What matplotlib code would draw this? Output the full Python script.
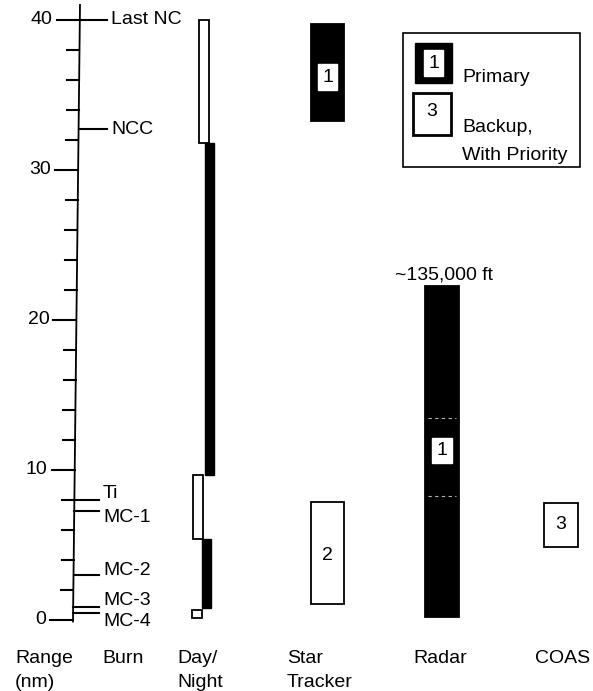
import matplotlib
matplotlib.use('Agg')
import matplotlib.pyplot as plt
from matplotlib.patches import Rectangle

plt.rcParams['font.family'] = ['Liberation Sans', 'DejaVu Sans']

# range axis (nm)
major_ticks = [0, 10, 20, 30, 40]
minor_ticks = [2, 4, 6, 8, 12, 14, 16, 18, 22, 24, 26, 28, 32, 34, 36, 38]

# burn events
burn_names = ['Last NC', 'NCC', 'Ti', 'MC-1', 'MC-2', 'MC-3', 'MC-4']
burn_range = [40.0, 32.7, 8.0, 7.3, 3.0, 0.9, 0.45]
burn_label_y = [40.0, 32.7, 8.4, 6.8, 3.3, 1.3, -0.1]

# day / night intervals (nm)
day_lo = [31.8, 5.4, 0.15]
day_hi = [40.0, 9.7, 0.7]
night_lo = [9.7, 0.8]
night_hi = [31.8, 5.4]

# sensors: (column, low, high, priority)
sensor_col = ['Star Tracker', 'Star Tracker', 'Radar', 'COAS']
sensor_lo = [33.3, 1.1, 0.2, 4.9]
sensor_hi = [39.7, 7.9, 22.3, 7.8]
sensor_pri = [1, 2, 1, 3]
sensor_label_y = [36.2, 4.3, 11.3, 6.35]

# column headings, one entry per text line
heading_text = ['Range', '(nm)', 'Burn', 'Day/', 'Night', 'Star', 'Tracker', 'Radar', 'COAS']
heading_x = [15, 15, 102, 177, 177, 287, 287, 413, 535]
heading_row = [0, 1, 0, 0, 1, 0, 1, 0, 0]

# layout (x in pixels)
col_x = {'Star Tracker': (311, 344), 'Radar': (425, 459), 'COAS': (544, 578)}
FS = 14


def py(p):
    # pixel row -> range value
    return (620 - p) / 15.0


def axis_x(y):
    # the hand drawn axis leans a little
    return 73 + 7 * y / 41.0


fig = plt.figure(figsize=(5.93, 6.91), dpi=100)
ax = fig.add_axes([0, 0, 1, 1])
ax.set_xlim(0, 593)
ax.set_ylim(py(691), py(0))
ax.axis('off')

# range axis
ax.plot([axis_x(-0.1), axis_x(41)], [-0.1, 41], color='black', lw=1.3)
for t in major_ticks:
    ax.plot([axis_x(t) - 23, axis_x(t)], [t, t], color='black', lw=1.5)
    ax.text(axis_x(t) - 27, t, f'{t}', ha='right', va='center', fontsize=FS)
for t in minor_ticks:
    ax.plot([axis_x(t) - 12, axis_x(t)], [t, t], color='black', lw=1.5)

# burns
for name, r, ly in zip(burn_names, burn_range, burn_label_y):
    right = 107 if r > 30 else 99
    ax.plot([axis_x(r), right], [r, r], color='black', lw=1.5)
    ax.text(right + 4, ly, name, ha='left', va='center', fontsize=FS)

# day / night, the column leans like the axis
day_mid = [(l + h) / 2 for l, h in zip(day_lo, day_hi)]
night_mid = [(l + h) / 2 for l, h in zip(night_lo, night_hi)]
ax.bar([196.5 + 0.21 * m for m in day_mid], [h - l for l, h in zip(day_lo, day_hi)],
       bottom=day_lo, width=10, color='white', edgecolor='black', lw=1.3)
ax.bar([205.5 + 0.21 * m for m in night_mid], [h - l for l, h in zip(night_lo, night_hi)],
       bottom=night_lo, width=9, color='black', edgecolor='black', lw=1)

# sensors
for col, lo, hi, pri, ly in zip(sensor_col, sensor_lo, sensor_hi, sensor_pri, sensor_label_y):
    x0, x1 = col_x[col]
    dark = pri == 1
    ax.bar((x0 + x1) / 2, hi - lo, bottom=lo, width=x1 - x0,
           color='black' if dark else 'white', edgecolor='black', lw=1.3)
    bbox = dict(boxstyle='square,pad=0.22', facecolor='white', edgecolor='white') if dark else None
    ax.text((x0 + x1) / 2, ly, f'{pri}', ha='center', va='center', fontsize=FS, bbox=bbox)

# faint dashes in the radar bar
for d in [13.5, 8.3]:
    ax.plot([428, 456], [d, d], color='white', lw=0.8, ls=(0, (3, 3)), alpha=0.7)

ax.text(444, py(275), '~135,000 ft', ha='center', va='center', fontsize=FS)

# legend
ax.add_patch(Rectangle((403, py(167)), 177, py(33) - py(167), facecolor='white',
                       edgecolor='black', lw=1.2))
ax.add_patch(Rectangle((415, py(83)), 37, py(43) - py(83), facecolor='black', edgecolor='black'))
ax.text(433.5, py(63), '1', ha='center', va='center', fontsize=FS,
        bbox=dict(boxstyle='square,pad=0.22', facecolor='white', edgecolor='white'))
ax.text(462, py(78), 'Primary', ha='left', va='center', fontsize=FS)
ax.add_patch(Rectangle((413, py(135)), 38, py(93) - py(135), facecolor='white',
                       edgecolor='black', lw=2))
ax.text(432, py(112), '3', ha='center', va='center', fontsize=FS)
ax.text(462, py(128), 'Backup,', ha='left', va='center', fontsize=FS)
ax.text(462, py(155), 'With Priority', ha='left', va='center', fontsize=FS)

# column headings
baselines = [663, 687]
for txt, hx, row in zip(heading_text, heading_x, heading_row):
    ax.text(hx, py(baselines[row]), txt, ha='left', va='baseline', fontsize=FS)

fig.savefig('out.png', dpi=100)
